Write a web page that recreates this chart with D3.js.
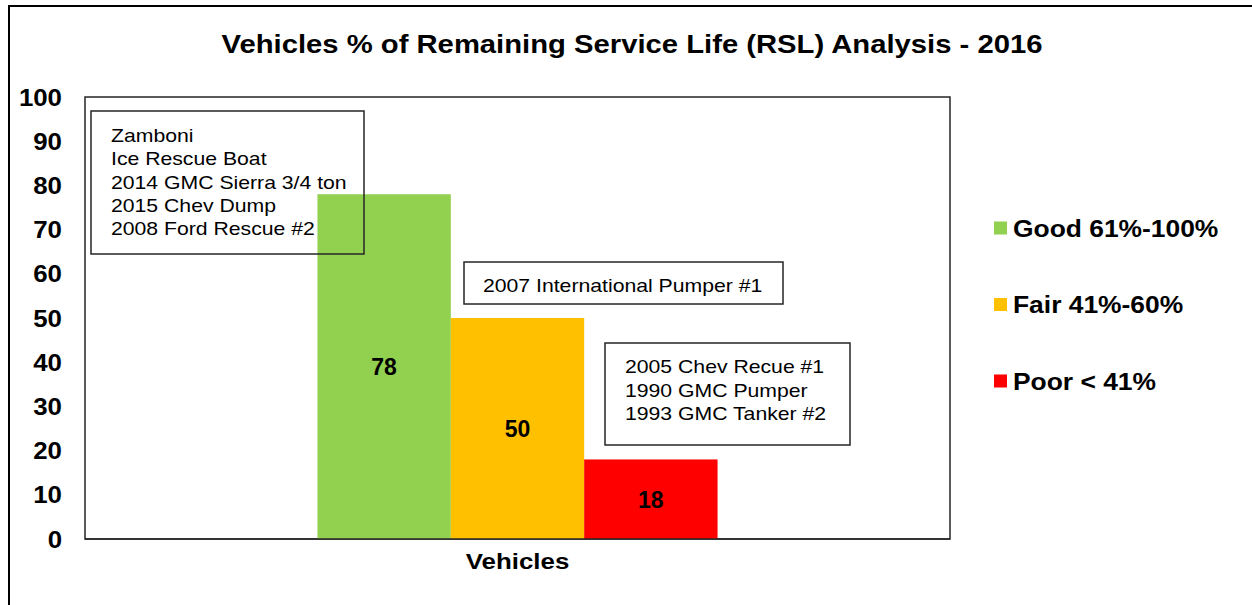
<!DOCTYPE html>
<html>
<head>
<meta charset="utf-8">
<script src="https://cdn.jsdelivr.net/npm/d3@7"></script>
<style>
  body { margin: 0; background: #fff; }
  svg { display: block; font-family: Arial, "Liberation Sans", sans-serif; }
</style>
</head>
<body>
<svg id="chart" width="1252" height="605"></svg>
<script>
// Chart data
const category = 'Vehicles';
const seriesNames = ['Good 61%-100%', 'Fair 41%-60%', 'Poor < 41%'];
const seriesValues = [78, 50, 18];
const seriesColors = ['#92D050', '#FFC000', '#FF0000'];
const yTicks = [0, 10, 20, 30, 40, 50, 60, 70, 80, 90, 100];
const noteGood = ['Zamboni', 'Ice Rescue Boat', '2014 GMC Sierra 3/4 ton', '2015 Chev Dump', '2008 Ford Rescue #2'];
const noteFair = ['2007 International Pumper #1'];
const notePoor = ['2005 Chev Recue #1', '1990 GMC Pumper', '1993 GMC Tanker #2'];

const svg = d3.select('#chart');

// Plot area
const plot = { left: 85, top: 97, right: 950, bottom: 539 };

// the source picture is a bit wider than tall, so text is stretched sideways
function putText(parent, str, x, y, size, bold, sx, anchor) {
  return parent.append('text')
    .attr('transform', `translate(${x},${y}) scale(${sx},1)`)
    .attr('text-anchor', anchor || 'start')
    .style('font-size', size + 'px')
    .style('font-weight', bold ? 'bold' : 'normal')
    .text(str);
}

// outer chart frame
svg.append('rect')
  .attr('x', 9).attr('y', 6)
  .attr('width', 1260).attr('height', 620)
  .attr('fill', 'none').attr('stroke', '#000').attr('stroke-width', 2);

// title
putText(svg, 'Vehicles % of Remaining Service Life (RSL) Analysis - 2016', 632, 53, 25, true, 1.17, 'middle');

const y = d3.scaleLinear().domain([0, 100]).range([plot.bottom, plot.top]);
const x0 = d3.scaleBand().domain([category]).range([plot.left, plot.right]).paddingInner(0).paddingOuter(0.581);
const x1 = d3.scaleBand().domain(seriesNames).range([0, x0.bandwidth()]);

// plot frame
svg.append('rect')
  .attr('x', plot.left).attr('y', plot.top)
  .attr('width', plot.right - plot.left).attr('height', plot.bottom - plot.top)
  .attr('fill', 'none').attr('stroke', '#262626').attr('stroke-width', 1.5);

// y axis labels
const gy = svg.append('g');
yTicks.forEach(t => putText(gy, t, 62, y(t) + 8.5, 23.5, true, 1.1, 'end'));

// bars
const series = seriesNames.map((name, i) => ({ name, value: seriesValues[i], color: seriesColors[i] }));
const g = svg.append('g').attr('transform', `translate(${x0(category)},0)`);
g.selectAll('rect')
  .data(series)
  .join('rect')
  .attr('x', d => x1(d.name))
  .attr('y', d => y(d.value))
  .attr('width', x1.bandwidth())
  .attr('height', d => y(0) - y(d.value))
  .attr('fill', d => d.color);

// bar labels
g.selectAll('text.lbl')
  .data(series)
  .join('text')
  .attr('class', 'lbl')
  .attr('x', d => x1(d.name) + x1.bandwidth() / 2)
  .attr('y', d => (y(d.value) + y(0)) / 2)
  .attr('dy', '0.36em')
  .attr('text-anchor', 'middle')
  .style('font-size', '23px').style('font-weight', 'bold')
  .text(d => d.value);

// redraw bottom axis line above bars
svg.append('line')
  .attr('x1', plot.left).attr('x2', plot.right)
  .attr('y1', plot.bottom).attr('y2', plot.bottom)
  .attr('stroke', '#262626').attr('stroke-width', 1.5);

// x axis category label
putText(svg, category, x0(category) + x0.bandwidth() / 2, 569, 22.5, true, 1.15, 'middle');

// annotation boxes
function noteBox(lines, bx, by, bw, bh, tx, base0, step) {
  svg.append('rect')
    .attr('x', bx).attr('y', by).attr('width', bw).attr('height', bh)
    .attr('fill', lines === noteGood ? 'none' : '#fff')
    .attr('stroke', '#262626').attr('stroke-width', 1.5);
  const gt = svg.append('g');
  lines.forEach((s, i) => putText(gt, s, tx, base0 + i * step, 18.6, false, 1.14));
}
noteBox(noteGood, 91, 111, 273, 143, 111, 142, 23.3);
noteBox(noteFair, 464, 262, 319, 42, 483, 291.5, 23.5);
noteBox(notePoor, 605, 343, 245, 102, 625, 373, 23.7);

// legend
const legend = svg.append('g');
series.forEach((d, i) => {
  const cy = 228 + i * 76.5;
  legend.append('rect')
    .attr('x', 994).attr('y', cy - 6.5).attr('width', 13).attr('height', 13)
    .attr('fill', d.color);
  putText(legend, d.name, 1013, cy + 8.5, 24, true, 1.1);
});
</script>
</body>
</html>
